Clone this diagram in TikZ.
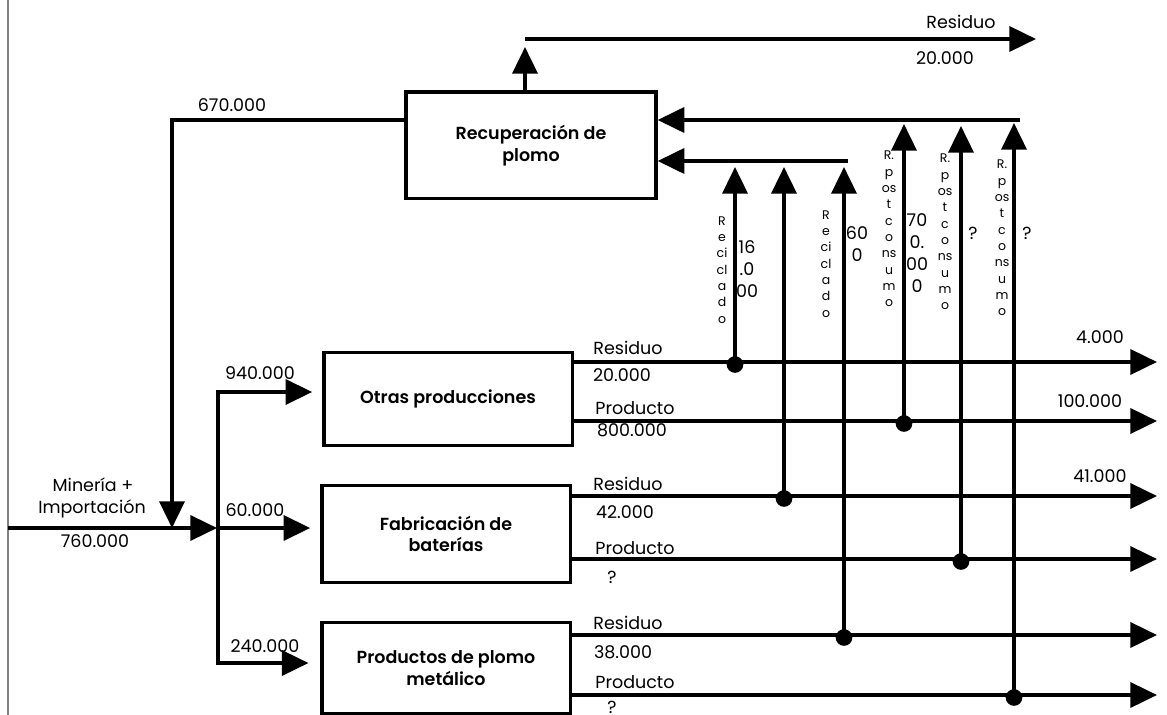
\documentclass[tikz,border=0pt]{standalone}
\usepackage{fontspec}
\setmainfont{Poppins}[BoldFont={Poppins SemiBold}]
\usetikzlibrary{arrows.meta}

\begin{document}
\begin{tikzpicture}[x=0.6pt, y=-0.6pt,
    flow/.style={line width=2.2pt, -{Triangle[length=16pt,width=15pt]}},
    pipe/.style={line width=2.2pt, line cap=rect},
    proc/.style={draw, line width=2pt, align=center, inner sep=0pt,
      font=\fontsize{10.5}{13}\selectfont\bfseries},
    lbl/.style={font=\fontsize{10.5}{12}\selectfont, inner sep=0pt},
    vtxt/.style={font=\fontsize{7.5}{9.8}\selectfont, align=center, inner sep=0pt},
    vnum/.style={font=\fontsize{10.5}{13.2}\selectfont, align=center, inner sep=0pt},
    dot/.style={circle, fill, inner sep=0pt, minimum size=10pt, yshift=-1.5pt}]
  \useasboundingbox (0,0) rectangle (1167,715);
  % Page edge
  \draw[gray, line width=1.2pt] (8,0) -- (8,715);
  % Processes
  \node[proc, minimum width=150pt, minimum height=64pt] (rec) at (531,145.5) {Recuperación de\\plomo};
  \node[proc, minimum width=149pt, minimum height=56pt] (otras) at (448,399) {Otras producciones};
  \node[proc, minimum width=149pt, minimum height=58pt] (fab) at (446,534) {Fabricación de\\baterías};
  \node[proc, minimum width=149pt, minimum height=55pt] (prod) at (446,668) {Productos de plomo\\metálico};
  % Input and distribution
  \coordinate (src) at (8,528);
  \coordinate (split) at (217,528);
  \coordinate (ttop) at (218,392);
  \coordinate (tbot) at (218,663);
  \draw[flow] (src) -- (split);
  \draw[pipe] (ttop) -- (tbot);
  \draw[flow] (ttop) -- ([xshift=-6pt]otras.west |- ttop);
  \draw[flow] (split) -- ([xshift=-6pt]fab.west |- split);
  \draw[flow] (tbot) -- ([xshift=-7pt]prod.west |- tbot);
  % Recovered lead back to the input
  \coordinate (loop) at (172,120);
  \draw[flow] (rec.west |- loop) -- (loop) -- (loop |- src);
  % Residue of the recovery
  \coordinate (up) at (525,47);
  \coordinate (topl) at (525,39);
  \coordinate (topr) at (1036,39);
  \draw[flow] (rec.north -| up) -- (up);
  \draw[flow] (topl) -- (topr);
  % Collectors into the recovery
  \coordinate (colA) at (1020,120);
  \coordinate (colB) at (848,161);
  \draw[flow] (colA) -- (rec.east |- colA);
  \draw[flow] (colB) -- (rec.east |- colB);
  % Outputs and branches to the recovery
  \foreach \n/\b/\y/\x/\t in {ores/otras/362/735/167, fres/fab/496/784/167,
      pres/prod/635/844/167, oprod/otras/421/904/124,
      fprod/fab/559/961/126, pprod/prod/695/1014/123} {
    \coordinate (\n-end) at (1157,\y);
    \coordinate (\n-up) at (\x,\t);
    \draw[flow] (\b.east |- \n-end) -- (\n-end);
    \node[dot] (\n-dot) at (\n-up |- \n-end) {};
    \draw[flow] (\n-dot.center) -- (\n-up);
  }
  % Input labels
  \node[lbl] (min1) at (93,485) {Minería +};
  \node[lbl] (min2) at (92,509) {Importación};
  \node[lbl] (min3) at (95,541) {760.000};
  \node[lbl] (q940) at (260,373) {940.000};
  \node[lbl] (q60) at (255,510) {60.000};
  \node[lbl] (q240) at (265,646) {240.000};
  \node[lbl] (q670) at (232,105) {670.000};
  \node[lbl] (rres) at (961,22) {Residuo};
  \node[lbl] (rq) at (945,58) {20.000};
  % Output labels
  \node[lbl] (ores-t) at (628,348) {Residuo};
  \node[lbl] (ores-q) at (622,375) {20.000};
  \node[lbl] (oprod-t) at (635,408) {Producto};
  \node[lbl] (oprod-q) at (632,430) {800.000};
  \node[lbl] (fres-t) at (628,484) {Residuo};
  \node[lbl] (fres-q) at (625,512) {42.000};
  \node[lbl] (fprod-t) at (635,548) {Producto};
  \node[lbl] (fprod-q) at (612,577) {?};
  \node[lbl] (pres-t) at (628,623) {Residuo};
  \node[lbl] (pres-q) at (623,652) {38.000};
  \node[lbl] (pprod-t) at (635,682) {Producto};
  \node[lbl] (pprod-q) at (612,707) {?};
  \node[lbl] (ores-e) at (1100,337) {4.000};
  \node[lbl] (oprod-e) at (1090,401) {100.000};
  \node[lbl] (fres-e) at (1100,476) {41.000};
  % Branch labels
  \node[vtxt] (rc1) at (722,270) {R\\e\\ci\\cl\\a\\d\\o};
  \node[vnum] (rc1-q) at (747,269) {16\\.0\\00};
  \node[vtxt] (rc2) at (826,264) {R\\e\\ci\\cl\\a\\d\\o};
  \node[vnum] (rc2-q) at (857,244) {60\\0};
  \node[vtxt] (pc1) at (889,229) {R.\\p\\os\\t\\c\\o\\ns\\u\\m\\o};
  \node[vnum] (pc1-q) at (917,253) {70\\0.\\00\\0};
  \node[vtxt] (pc2) at (945,232) {R.\\p\\os\\t\\c\\o\\ns\\u\\m\\o};
  \node[vnum] (pc2-q) at (973,233) {?};
  \node[vtxt] (pc3) at (1002,238) {R.\\p\\os\\t\\c\\o\\ns\\u\\m\\o};
  \node[vnum] (pc3-q) at (1027,233) {?};
\end{tikzpicture}
\end{document}
